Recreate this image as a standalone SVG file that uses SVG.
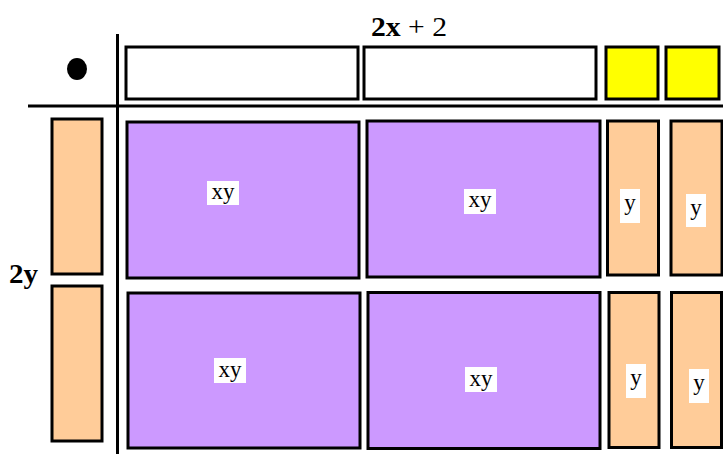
<svg xmlns="http://www.w3.org/2000/svg" width="723" height="454" viewBox="0 0 723 454">
<style>
.t{stroke:#000;stroke-width:3}
.w{fill:#fff}
.yl{fill:#ffff00}
.o{fill:#ffcc99}
.p{fill:#cc99ff}
.lb{fill:#fff;stroke:none}
.tx{font-family:"Liberation Serif","Times New Roman",serif;font-size:23px;fill:#000;text-anchor:middle}
.big{font-family:"Liberation Serif","Times New Roman",serif;font-size:27px;fill:#000}
.ax{stroke:#000;stroke-width:3;fill:none}
</style>
<rect width="723" height="454" fill="#fff"/>
<g id="axes">
<line class="ax" x1="117.5" y1="34" x2="117.5" y2="454"/>
<line class="ax" x1="28" y1="106" x2="723" y2="106"/>
</g>
<g id="dot"><ellipse cx="77" cy="69" rx="10" ry="11" fill="#000"/></g>
<g id="top-label"><text class="big" x="371" y="36" textLength="76" lengthAdjust="spacingAndGlyphs"><tspan font-weight="bold">2x</tspan> + 2</text></g>
<g id="left-label"><text class="big" x="9" y="283" font-weight="bold" textLength="29" lengthAdjust="spacingAndGlyphs">2y</text></g>
<g id="top-x1"><rect class="t w" x="126" y="47" width="232" height="52"/></g>
<g id="top-x2"><rect class="t w" x="364" y="47" width="232" height="52"/></g>
<g id="top-u1"><rect class="t yl" x="606" y="47" width="52" height="52"/></g>
<g id="top-u2"><rect class="t yl" x="666" y="47" width="53" height="52"/></g>
<g id="left-y1"><rect class="t o" x="52" y="119" width="50" height="155"/></g>
<g id="left-y2"><rect class="t o" x="52" y="286" width="50" height="155"/></g>
<g id="xy-11"><rect class="t p" x="127" y="122" width="232" height="156"/><rect class="lb" x="207" y="181" width="32" height="24"/><text class="tx" x="223" y="199">xy</text></g>
<g id="xy-12"><rect class="t p" x="367" y="121" width="233" height="156"/><rect class="lb" x="464" y="189" width="32" height="25"/><text class="tx" x="480" y="207">xy</text></g>
<g id="y-13"><rect class="t o" x="607.5" y="121" width="51" height="154"/><rect class="lb" x="620" y="189" width="20" height="34"/><text class="tx" x="630" y="210">y</text></g>
<g id="y-14"><rect class="t o" x="671" y="121" width="51" height="154"/><rect class="lb" x="686" y="194" width="20" height="33"/><text class="tx" x="696" y="215">y</text></g>
<g id="xy-21"><rect class="t p" x="128" y="293" width="232" height="155"/><rect class="lb" x="214" y="358" width="32" height="25"/><text class="tx" x="230" y="377">xy</text></g>
<g id="xy-22"><rect class="t p" x="368" y="292.5" width="232" height="156"/><rect class="lb" x="465" y="367" width="32" height="25"/><text class="tx" x="481" y="386">xy</text></g>
<g id="y-23"><rect class="t o" x="609" y="292.5" width="50" height="155"/><rect class="lb" x="626" y="364" width="20" height="34"/><text class="tx" x="636" y="385">y</text></g>
<g id="y-24"><rect class="t o" x="671.5" y="292.5" width="50" height="155"/><rect class="lb" x="689" y="369" width="20" height="34"/><text class="tx" x="699" y="390">y</text></g>
</svg>
